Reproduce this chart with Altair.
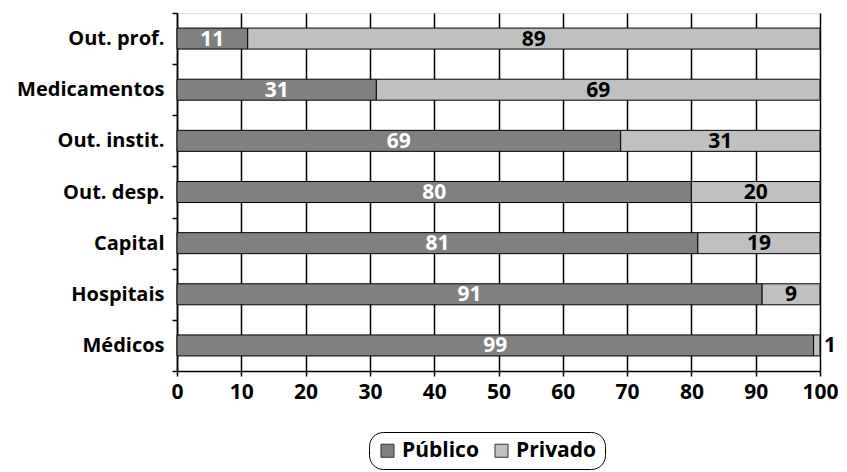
import altair as alt
import pandas as pd

categories = ["Out. prof.", "Medicamentos", "Out. instit.", "Out. desp.", "Capital", "Hospitais", "Médicos"]
publico = [11, 31, 69, 80, 81, 91, 99]
privado = [89, 69, 31, 20, 19, 9, 1]
series = ["Público", "Privado"]
colors = ["#808080", "#c0c0c0"]
x_ticks = [0, 10, 20, 30, 40, 50, 60, 70, 80, 90, 100]

FONT = "Open Sans"

rows = []
for cat, pu, pr in zip(categories, publico, privado):
    rows.append({"cat": cat, "serie": "Público", "valor": pu, "ini": 0, "fim": pu,
                 "lx": pu / 2, "cor": "white", "fora": False})
    small = pr < 5
    rows.append({"cat": cat, "serie": "Privado", "valor": pr, "ini": pu, "fim": pu + pr,
                 "lx": 100 if small else pu + pr / 2, "cor": "black", "fora": small})
df = pd.DataFrame(rows)

y_enc = alt.Y("cat:N", sort=categories, title=None,
              scale=alt.Scale(paddingInner=0, paddingOuter=0),
              axis=alt.Axis(tickBand="extent", labelFontSize=20, labelFontWeight="bold",
                            labelFont=FONT, labelColor="black", labelPadding=8,
                            tickColor="black", tickSize=5, tickWidth=1.5,
                            domainColor="black", domainWidth=1.5, grid=False))
x_scale = alt.Scale(domain=[0, 100], nice=False)

bars = alt.Chart(df).mark_bar(size=21, stroke="black", strokeWidth=1).encode(
    y=y_enc,
    x=alt.X("ini:Q", scale=x_scale, title=None,
            axis=alt.Axis(values=x_ticks, labelFontSize=21, labelFontWeight="bold",
                          labelFont=FONT, labelColor="black", labelPadding=5,
                          labelFlush=False, labelOverlap=False,
                          tickColor="black", tickSize=5, tickWidth=1.5,
                          domainColor="black", domainWidth=1.5,
                          grid=True, gridColor="black", gridWidth=1.5, gridOpacity=1)),
    x2="fim:Q",
    color=alt.Color("serie:N", sort=series,
                    scale=alt.Scale(domain=series, range=colors),
                    legend=alt.Legend(title=None, orient="none", direction="horizontal",
                                      legendX=192, legendY=419,
                                      symbolType="square", symbolSize=170,
                                      symbolStrokeColor="#333333", symbolStrokeWidth=1,
                                      symbolOpacity=1,
                                      labelFontSize=21, labelFontWeight="bold",
                                      labelFont=FONT, labelColor="black",
                                      labelOffset=4, columnPadding=12,
                                      padding=8, strokeColor="black",
                                      cornerRadius=14, fillColor="white")),
)

inner = alt.Chart(df).transform_filter("!datum.fora").mark_text(
    fontSize=21, fontWeight="bold", font=FONT, baseline="middle", dy=1
).encode(
    y=alt.Y("cat:N", sort=categories),
    x=alt.X("lx:Q", scale=x_scale),
    text="valor:Q",
    color=alt.Color("cor:N", scale=None),
)

outer = alt.Chart(df).transform_filter("datum.fora").mark_text(
    fontSize=21, fontWeight="bold", font=FONT, baseline="middle", align="left", dx=4, dy=1
).encode(
    y=alt.Y("cat:N", sort=categories),
    x=alt.X("lx:Q", scale=x_scale),
    text="valor:Q",
    color=alt.value("black"),
)

chart = alt.layer(bars, inner, outer).properties(
    width=643, height=358,
    autosize=alt.AutoSizeParams(type="none"),
    padding={"left": 177, "top": 13, "right": 27, "bottom": 101},
).configure_view(stroke="black", strokeWidth=1.5).configure(background="white")

chart.save("out.html", embed_options={"renderer": "svg", "actions": False})
